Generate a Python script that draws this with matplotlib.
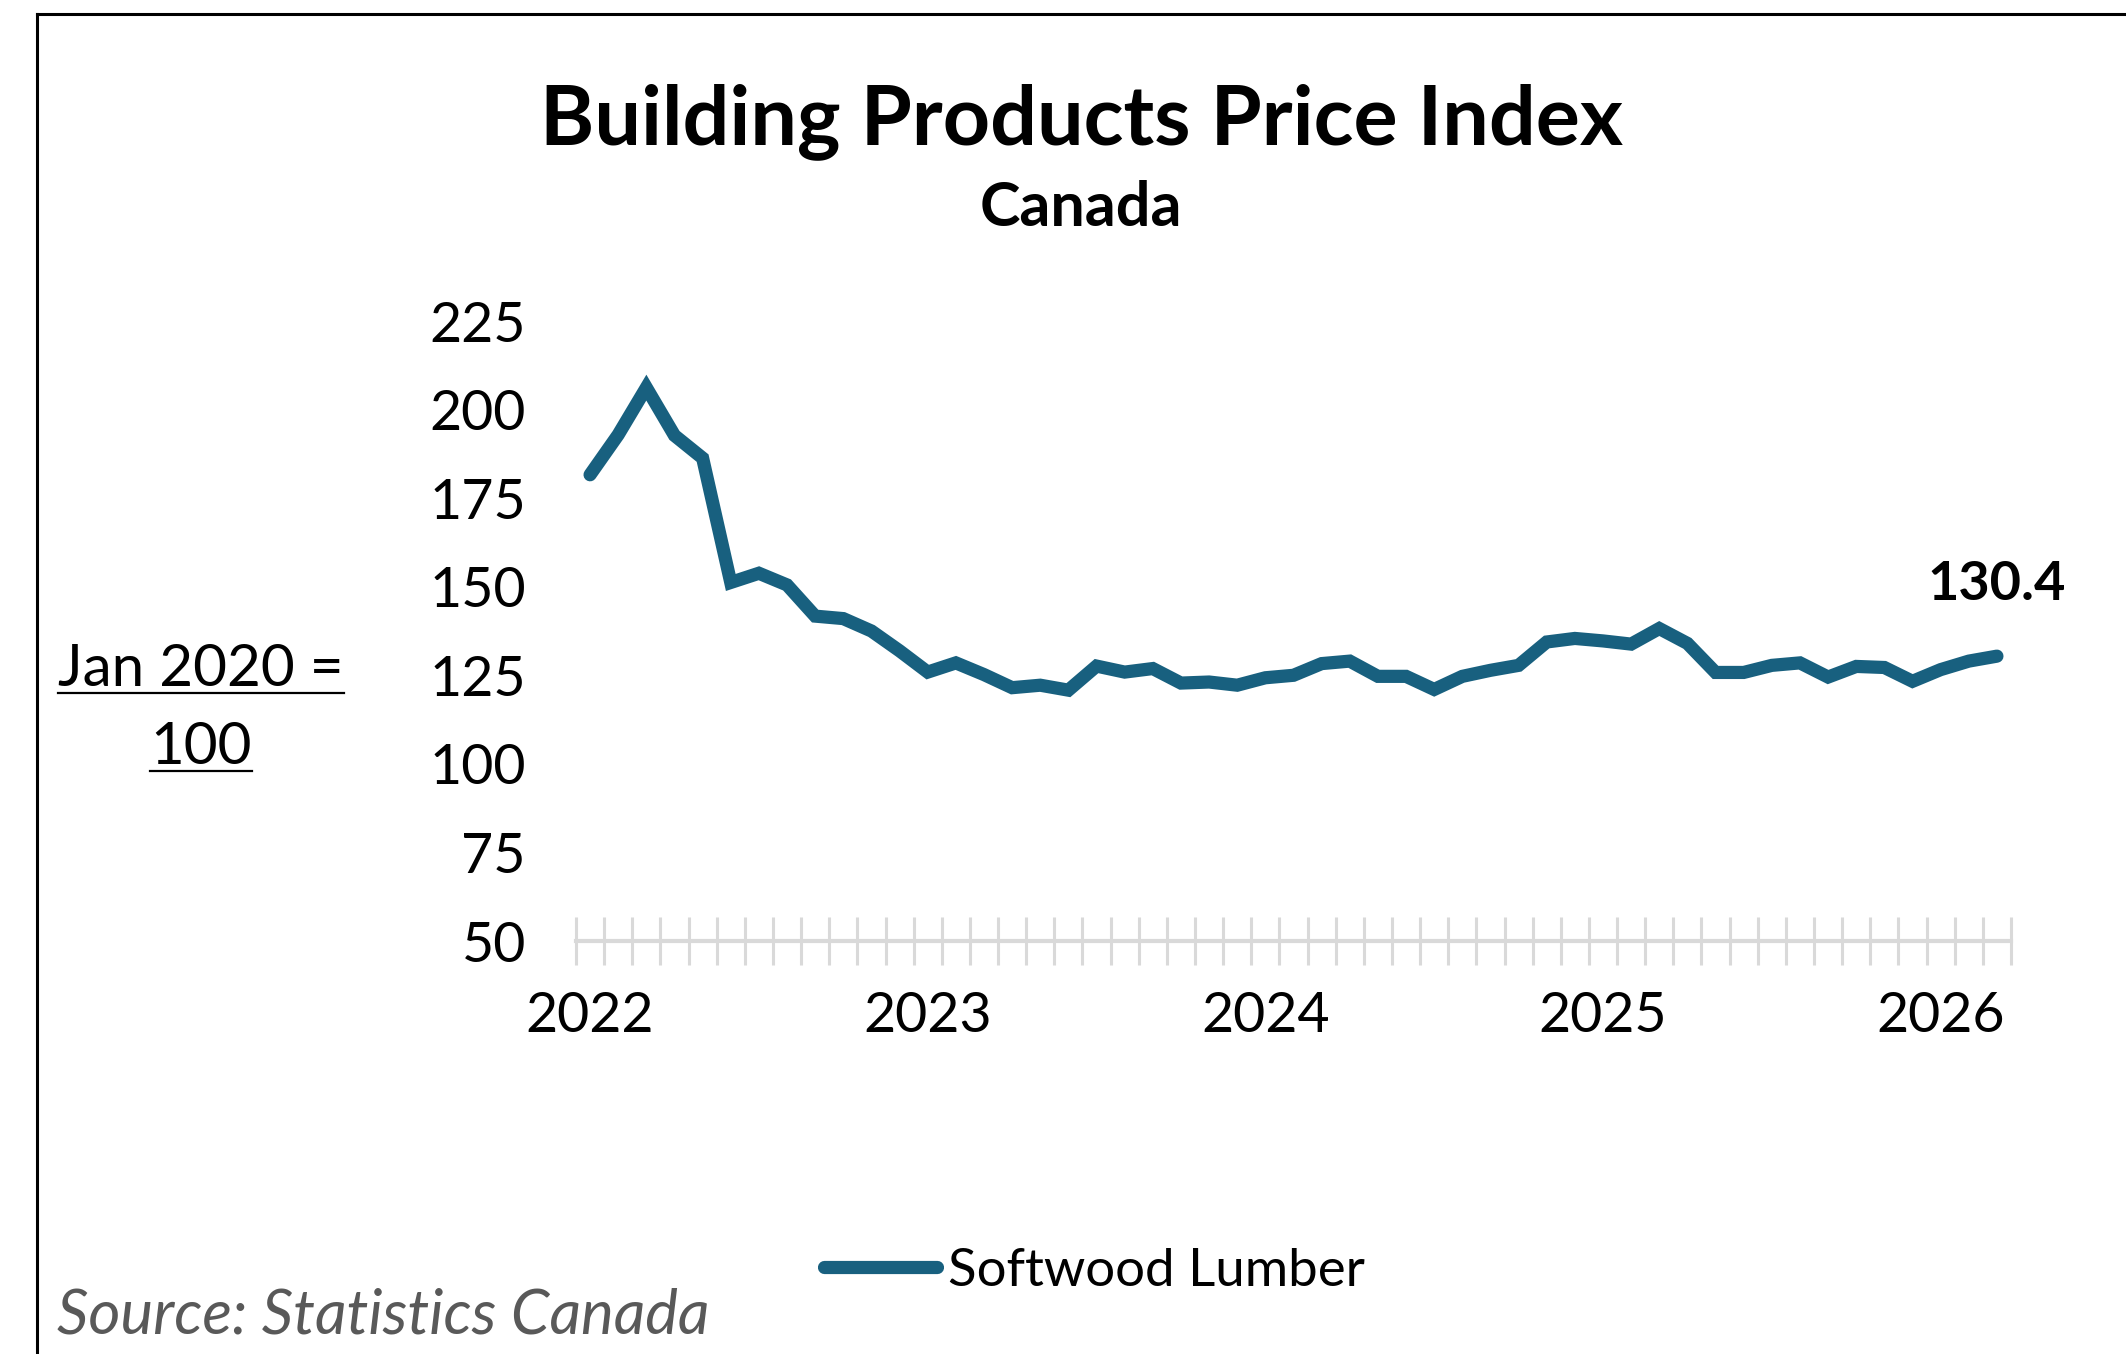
import matplotlib
matplotlib.use("Agg")
import matplotlib.pyplot as plt
from matplotlib.lines import Line2D
import numpy as np

# ---- data ----
months = ["Jan 2022", "Feb 2022", "Mar 2022", "Apr 2022", "May 2022", "Jun 2022",
          "Jul 2022", "Aug 2022", "Sep 2022", "Oct 2022", "Nov 2022", "Dec 2022",
          "Jan 2023", "Feb 2023", "Mar 2023", "Apr 2023", "May 2023", "Jun 2023",
          "Jul 2023", "Aug 2023", "Sep 2023", "Oct 2023", "Nov 2023", "Dec 2023",
          "Jan 2024", "Feb 2024", "Mar 2024", "Apr 2024", "May 2024", "Jun 2024",
          "Jul 2024", "Aug 2024", "Sep 2024", "Oct 2024", "Nov 2024", "Dec 2024",
          "Jan 2025", "Feb 2025", "Mar 2025", "Apr 2025", "May 2025", "Jun 2025",
          "Jul 2025", "Aug 2025", "Sep 2025", "Oct 2025", "Nov 2025", "Dec 2025",
          "Jan 2026", "Feb 2026", "Mar 2026"]
softwood_lumber = [181.6, 192.9, 206.2, 192.7, 186.3, 151.2,
                   153.8, 150.5, 141.7, 141.0, 137.5, 131.9,
                   125.9, 128.5, 125.2, 121.5, 122.2, 120.8,
                   127.6, 125.9, 126.9, 122.8, 123.1, 122.2,
                   124.3, 125.0, 128.3, 129.0, 124.7, 124.7,
                   121.0, 124.7, 126.4, 127.8, 134.4, 135.4,
                   134.7, 133.8, 138.2, 134.0, 125.8, 125.8,
                   127.8, 128.5, 124.5, 127.5, 127.2, 123.3,
                   126.6, 129.0, 130.4]
year_labels = ["2022", "2023", "2024", "2025", "2026"]
y_ticks = [50, 75, 100, 125, 150, 175, 200, 225]
series_name = "Softwood Lumber"
last_label = "130.4"

# ---- style ----
FONT = "Lato"
LINE_COLOR = "#18607f"
AXIS_GRAY = "#d9d9d9"
W, H = 2126, 1354
DPI = 100

fig = plt.figure(figsize=(W / DPI, H / DPI), dpi=DPI)
fig.patch.set_facecolor("white")

# axes in pixel coordinates
x0, x1 = 576, 2011
ytop, ybot = 321, 941
ax = fig.add_axes([x0 / W, 1 - ybot / H, (x1 - x0) / W, (ybot - ytop) / H])

x = np.arange(len(months))
line, = ax.plot(x, softwood_lumber, color=LINE_COLOR, lw=9.5,
                solid_capstyle="round", solid_joinstyle="miter", label=series_name)

ax.set_xlim(-0.5, len(months) - 0.5)
ax.set_ylim(50, 225)

for s in ["top", "right", "left"]:
    ax.spines[s].set_visible(False)
ax.spines["bottom"].set_color(AXIS_GRAY)
ax.spines["bottom"].set_linewidth(3)

# x ticks: boundaries (major, unlabeled), year labels (minor, no tick)
ax.set_xticks(np.arange(-0.5, len(months), 1.0))
ax.set_xticklabels([])
ax.tick_params(axis="x", which="major", direction="inout", length=34, width=2.2,
               color=AXIS_GRAY)
year_pos = [months.index("Jan " + y) for y in year_labels]
ax.set_xticks(year_pos, minor=True)
ax.set_xticklabels(year_labels, minor=True, fontsize=40, family=FONT)
ax.tick_params(axis="x", which="minor", length=0, pad=36)

ax.set_yticks(y_ticks)
ax.set_yticklabels([str(v) for v in y_ticks], fontsize=40, family=FONT)
ax.tick_params(axis="y", length=0, pad=36)

# last value label
ax.annotate(last_label, xy=(x[-1], softwood_lumber[-1]), xytext=(0, 72),
            textcoords="offset pixels", ha="center", va="center",
            fontsize=39, fontweight="bold", family=FONT)

# titles
fig.text(1081 / W, 1 - 122 / H, "Building Products Price Index", ha="center",
         va="center", fontsize=59.5, fontweight="bold", family=FONT)
fig.text(1081 / W, 1 - 208 / H, "Canada", ha="center", va="center",
         fontsize=44, fontweight="bold", family=FONT)

# y-axis unit label with underline
t1 = fig.text(201 / W, 1 - 670 / H, "Jan 2020 =", ha="center", va="center",
              fontsize=42, family=FONT)
t2 = fig.text(201 / W, 1 - 748 / H, "100", ha="center", va="center",
              fontsize=42, family=FONT)
fig.canvas.draw()
r = fig.canvas.get_renderer()
for t in [t1, t2]:
    bb = t.get_window_extent(renderer=r)
    yline = bb.y0 + 4
    fig.add_artist(Line2D([bb.x0 / W, bb.x1 / W], [yline / H, yline / H],
                          color="black", lw=1.6, transform=fig.transFigure))

# legend
leg = fig.legend(handles=[line], loc="center", bbox_to_anchor=(1094 / W, 1 - 1271 / H),
                 frameon=False, handlelength=2.15, handletextpad=0.2,
                 prop={"family": FONT, "size": 38})

# source
fig.text(57 / W, 1 - 1316 / H, "Source: Statistics Canada", ha="left", va="center",
         fontsize=44.5, style="italic", color="#595959", family=FONT)

# border (top and left)
fig.add_artist(Line2D([37 / W, 1.0], [1 - 14 / H, 1 - 14 / H], color="black", lw=2.2,
                      transform=fig.transFigure))
fig.add_artist(Line2D([37 / W, 37 / W], [0, 1 - 14 / H], color="black", lw=2.2,
                      transform=fig.transFigure))

fig.savefig("out.png", dpi=DPI, facecolor="white")
